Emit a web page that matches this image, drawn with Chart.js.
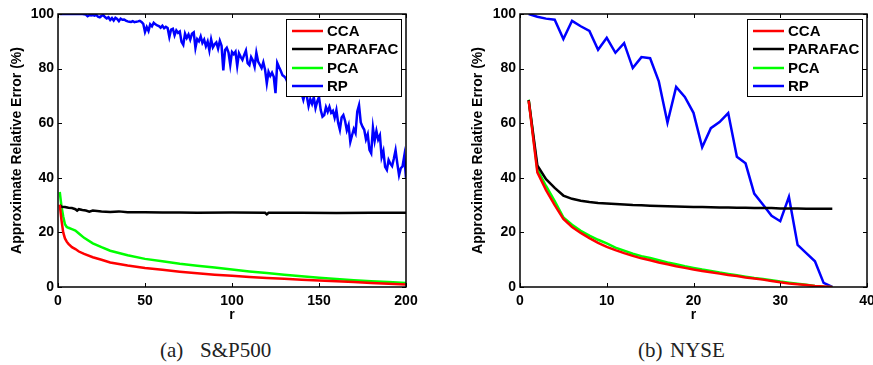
<!DOCTYPE html>
<html>
<head>
<meta charset="utf-8">
<script src="https://cdn.jsdelivr.net/npm/chart.js@4.4.1/dist/chart.umd.min.js"></script>
<style>
  html, body { margin: 0; padding: 0; background: #fff; }
  #wrap { position: relative; width: 873px; height: 365px; overflow: hidden; background: #fff; }
  canvas { position: absolute; top: 0; }
  #leftChart { left: 0; }
  #rightChart { left: 436px; }
  .cap { position: absolute; font-family: "Liberation Serif", "Times New Roman", serif; font-size: 21px; line-height: 21px; color: #222; white-space: pre; }
</style>
</head>
<body>
<div id="wrap">
  <canvas id="leftChart" width="436" height="330"></canvas>
  <canvas id="rightChart" width="460" height="330"></canvas>
  <span class="cap" style="left:160px; top:340px;">(a)</span>
  <span class="cap" style="left:200px; top:340px;">S&amp;P500</span>
  <span class="cap" style="left:638px; top:340px;">(b)</span>
  <span class="cap" style="left:670px; top:340px;">NYSE</span>
</div>
<script>
// ---- (a) S&P500 ----
const spRP = [
  100, 100, 100, 100, 100, 100, 100, 100, 100, 100,
  100, 100, 100, 100, 99.9, 99.8, 99.2, 99.6, 99.5, 99.6,
  99.4, 99.7, 99.0, 98.8, 99.3, 99.6, 98.9, 98.4, 98.8, 97.8,
  98.5, 97.6, 98.6, 98.2, 97.4, 98.3, 97.9, 98.0, 97.6, 97.3,
  97.2, 97.1, 97.4, 97.0, 97.2, 97.3, 97.5, 97.1, 96.4, 93.4,
  95.2, 93.8, 96.2, 95.5, 96.8, 96.2, 95.8, 95.6, 95.0, 95.7,
  94.8, 95.3, 94.9, 91.6, 94.3, 94.6, 92.2, 94.0, 93.1, 93.6,
  89.8, 88.7, 92.8, 91.2, 92.5, 90.6, 92.8, 93.3, 87.6, 90.8,
  90.0, 91.8, 89.4, 90.6, 88.2, 89.9, 86.7, 90.7, 87.8, 88.9,
  89.6, 87.3, 90.2, 88.4, 79.3, 86.8, 87.6, 85.9, 81.4, 86.1,
  85.3, 86.2, 81.0, 85.6, 84.3, 83.2, 85.0, 86.6, 82.0, 81.3,
  84.2, 83.0, 80.7, 85.8, 82.6, 81.4, 80.2, 82.3, 79.6, 74.6,
  78.8, 77.3, 78.5, 77.0, 71.0, 82.1, 80.6, 79.2, 77.6, 77.1,
  76.4, 74.8, 76.9, 75.0, 73.2, 75.6, 72.1, 74.0, 71.5, 70.9,
  68.6, 71.3, 69.9, 66.3, 68.8, 67.1, 69.5, 65.6, 68.0, 69.6,
  64.8, 62.4, 63.0, 65.9, 64.2, 66.0, 63.8, 64.5, 62.0, 64.8,
  60.2, 57.6, 62.1, 63.0, 60.8, 57.4, 59.3, 53.2, 55.6, 57.9,
  56.4, 64.3, 66.6, 60.3, 58.7, 57.6, 54.1, 55.9, 50.2, 49.0,
  58.3, 53.6, 57.1, 54.0, 55.5, 47.6, 49.8, 44.0, 42.9, 46.5,
  45.2, 44.3, 47.0, 50.1, 45.3, 41.0, 43.5, 44.2, 48.0, 40.0
];
const spR = [1, 2, 3, 4, 5, 6, 8, 10, 12, 15, 20, 25, 30, 40, 50, 60, 70, 80, 90, 100,
             110, 120, 130, 140, 150, 160, 170, 180, 190, 200];
const spCCA = [30.2, 24.5, 20.0, 17.8, 16.6, 15.8, 14.6, 13.9, 13.0, 12.1, 10.9, 10.0, 9.0, 7.9, 7.0,
               6.3, 5.6, 5.0, 4.5, 4.1, 3.7, 3.3, 3.0, 2.7, 2.4, 2.1, 1.8, 1.5, 1.2, 0.9];
const spPCA = [34.8, 29.5, 25.8, 23.0, 22.0, 21.7, 21.2, 20.7, 19.6, 18.0, 16.0, 14.6, 13.3, 11.6, 10.3,
               9.4, 8.5, 7.8, 7.1, 6.4, 5.7, 5.1, 4.5, 3.9, 3.4, 2.9, 2.5, 2.1, 1.8, 1.5];
const spParR = [1, 2, 4, 6, 8, 10, 11, 12, 14, 16, 18, 20, 25, 30, 35, 40, 50, 60, 70, 80,
                100, 119, 120, 121, 140, 160, 180, 200];
const spPARAFAC = [30.0, 29.4, 29.3, 29.0, 28.9, 28.5, 28.0, 28.5, 28.2, 28.0, 27.6, 28.0, 27.7, 27.5,
                   27.7, 27.4, 27.4, 27.3, 27.3, 27.2, 27.3, 27.2, 26.6, 27.2, 27.2, 27.1, 27.2, 27.2];

// ---- (b) NYSE ----
const nyR = [1, 2, 3, 4, 5, 6, 7, 8, 9, 10, 11, 12, 13, 14, 15, 16, 17, 18,
             19, 20, 21, 22, 23, 24, 25, 26, 27, 28, 29, 30, 31, 32, 33, 34, 35, 36];
const nyCCA = [68.3, 42.0, 35.5, 30.0, 24.9, 22.0, 19.8, 17.9, 16.2, 14.7, 13.5, 12.4, 11.4, 10.5, 9.8, 9.0, 8.3, 7.6,
               7.0, 6.4, 5.9, 5.4, 4.9, 4.4, 4.0, 3.5, 3.1, 2.7, 2.2, 1.7, 1.3, 1.0, 0.7, 0.4, 0.2, 0.0];
const nyPARAFAC = [68.5, 44.5, 39.5, 36.3, 33.5, 32.3, 31.6, 31.1, 30.8, 30.6, 30.4, 30.2, 30.0, 29.9, 29.8, 29.7, 29.6, 29.5,
                   29.4, 29.3, 29.3, 29.2, 29.1, 29.1, 29.0, 29.0, 28.9, 28.9, 28.9, 28.8, 28.8, 28.8, 28.7, 28.7, 28.7, 28.7];
const nyPCA = [68.6, 43.0, 37.0, 31.5, 25.5, 22.8, 20.6, 18.8, 17.3, 16.0, 14.4, 13.3, 12.2, 11.3, 10.6, 9.8, 9.0, 8.3,
               7.6, 7.0, 6.4, 5.9, 5.3, 4.8, 4.3, 3.8, 3.3, 2.9, 2.5, 2.0, 1.6, 1.2, 0.8, 0.4, 0.1, 0.0];
const nyRP = [100, 99.0, 98.3, 97.9, 90.8, 97.5, 95.5, 93.8, 86.9, 91.3, 85.8, 89.3, 80.2, 84.2, 83.8, 75.3, 60.2, 73.3,
              69.6, 63.8, 51.2, 58.2, 60.4, 63.7, 47.7, 45.3, 34.2, 30.2, 26.1, 24.1, 33.0, 15.4, 12.4, 9.4, 1.5, 0.0];

const yTicks = [0, 20, 40, 60, 80, 100];
const seriesNames = ['CCA', 'PARAFAC', 'PCA', 'RP'];
const seriesColors = ['#ff0000', '#000000', '#00ff00', '#0000ff'];

const pts = (xs, ys) => ys.map((y, i) => ({ x: xs[i], y: y }));
const spRAll = spRP.map((v, i) => i + 1);

const boldFont = (size) => ({ family: '"Liberation Sans", Arial, sans-serif', size: size, weight: 'bold' });

// box, inward ticks and the legend, drawn on top like MATLAB does
const matlabFrame = {
  id: 'matlabFrame',
  afterDatasetsDraw(chart) {
    const { ctx, chartArea: a, scales } = chart;
    ctx.save();
    ctx.strokeStyle = '#000';
    ctx.lineWidth = 1;
    const tl = 4;
    ctx.beginPath();
    scales.x.ticks.forEach(t => {
      const px = Math.round(scales.x.getPixelForValue(t.value)) + 0.5;
      ctx.moveTo(px, a.bottom); ctx.lineTo(px, a.bottom - tl);
      ctx.moveTo(px, a.top); ctx.lineTo(px, a.top + tl);
    });
    scales.y.ticks.forEach(t => {
      const py = Math.round(scales.y.getPixelForValue(t.value)) + 0.5;
      ctx.moveTo(a.left, py); ctx.lineTo(a.left + tl, py);
      ctx.moveTo(a.right, py); ctx.lineTo(a.right - tl, py);
    });
    ctx.stroke();
    ctx.lineWidth = 1.5;
    ctx.strokeRect(a.left, a.top, a.right - a.left, a.bottom - a.top);

    // legend
    const bw = 115, bh = 77;
    const bx = a.right - 5 - bw, by = a.top + 5;
    ctx.fillStyle = '#fff';
    ctx.fillRect(bx, by, bw, bh);
    ctx.lineWidth = 1;
    ctx.strokeRect(bx + 0.5, by + 0.5, bw, bh);
    const rows = [12, 30, 49, 67];
    ctx.font = 'bold 15px "Liberation Sans", Arial, sans-serif';
    ctx.textBaseline = 'middle';
    chart.data.datasets.forEach((ds, i) => {
      const y = by + rows[i];
      ctx.strokeStyle = ds.borderColor;
      ctx.lineWidth = 2.5;
      ctx.beginPath();
      ctx.moveTo(bx + 6, y); ctx.lineTo(bx + 37, y);
      ctx.stroke();
      ctx.fillStyle = '#000';
      ctx.fillText(ds.label, bx + 41, y + 1);
    });
    ctx.restore();
  }
};

function makeChart(id, series, xMax, xStep, yAxisWidth, titlePad, rightPad) {
  return new Chart(document.getElementById(id).getContext('2d'), {
    type: 'line',
    data: {
      datasets: series.map((s, i) => ({
        label: seriesNames[i],
        data: s,
        borderColor: seriesColors[i],
        backgroundColor: seriesColors[i],
        borderWidth: 2.5,
        pointRadius: 0,
        tension: 0,
        fill: false
      }))
    },
    options: {
      responsive: false,
      animation: false,
      devicePixelRatio: 1,
      layout: { padding: { left: 0, top: 14, right: rightPad, bottom: 3 } },
      plugins: { legend: { display: false }, tooltip: { enabled: false } },
      scales: {
        x: {
          type: 'linear', min: 0, max: xMax,
          grid: { display: false, drawTicks: false },
          border: { display: false },
          ticks: { stepSize: xStep, padding: 6, color: '#000', font: boldFont(14), maxRotation: 0 },
          title: { display: true, text: 'r', color: '#000', font: boldFont(14), padding: { top: 0, bottom: 3 } },
          afterFit: (scale) => { scale.height = 40; }
        },
        y: {
          min: 0, max: 100,
          afterBuildTicks: (scale) => { scale.ticks = yTicks.map(v => ({ value: v })); },
          grid: { display: false, drawTicks: false },
          border: { display: false },
          ticks: { padding: 4, color: '#000', font: boldFont(14) },
          title: { display: true, text: 'Approximate Relative Error (%)', color: '#000', font: boldFont(14), padding: { top: titlePad, bottom: 0 } },
          afterFit: (scale) => { scale.width = yAxisWidth; }
        }
      }
    },
    plugins: [matlabFrame]
  });
}

makeChart('leftChart',
  [pts(spR, spCCA), pts(spParR, spPARAFAC), pts(spR, spPCA), pts(spRAll, spRP)],
  200, 50, 58, 9, 30);

makeChart('rightChart',
  [pts(nyR, nyCCA), pts(nyR, nyPARAFAC), pts(nyR, nyPCA), pts(nyR, nyRP)],
  40, 10, 84, 34, 29);
</script>
</body>
</html>
